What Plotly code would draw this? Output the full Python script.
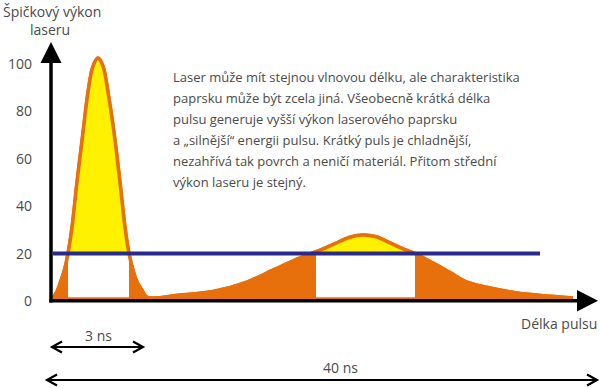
import plotly.graph_objects as go

# ---- data (x: horizontal position, y: peak power) ----
short_pulse_x = [53, 57, 61, 65, 68, 72, 77, 83, 88, 93, 98, 103, 108, 114, 120, 125, 129, 133, 137, 142, 147]
short_pulse_y = [1.3, 4, 8.5, 14, 20, 31, 50, 71, 88, 99, 102.5, 99, 88, 71, 50, 31, 20, 13, 8, 4.5, 1.6]

long_pulse_x = [147, 180, 213, 247, 273, 297, 311, 322, 335, 349, 362, 376, 390, 403, 415,
                433, 450, 467, 490, 517, 550, 573]
long_pulse_y = [1.6, 2.5, 4, 8, 13, 17.7, 20, 21.8, 24.2, 26.8, 27.8, 27.1, 24.5, 22, 20,
                16, 12, 8, 5.5, 3.4, 2, 1.3]

threshold = 20                      # mean power level
threshold_x = [53, 540]
window_starts = [68, 316]           # white windows under the threshold
window_ends = [129, 415]
window_bottom = 1.6

y_ticks = [0, 20, 40, 60, 80, 100]

paragraph = [
    "Laser může mít stejnou vlnovou délku, ale charakteristika",
    "paprsku může být zcela jiná. Všeobecně krátká délka",
    "pulsu generuje vyšší výkon laserového paprsku",
    "a „silnější“ energii pulsu. Krátký puls je chladnější,",
    "nezahřívá tak povrch a neničí materiál. Přitom střední",
    "výkon laseru je stejný.",
]

ORANGE = "#E8700C"
YELLOW = "#FFF100"
BLUE = "#2A2A8A"
TXT = "#4a4a4a"
FONT = "Open Sans"


def vy(p):
    """pixel row -> value on the power axis (for decorations)"""
    return (301 - p) / 2.37


full_x = short_pulse_x + long_pulse_x[1:]
full_y = short_pulse_y + long_pulse_y[1:]

fig = go.Figure()

# orange area under the whole curve
fig.add_trace(go.Scatter(x=full_x, y=full_y, mode="lines", fill="tozeroy",
                         fillcolor=ORANGE, line=dict(color=ORANGE, width=3.5, shape="spline"),
                         hoverinfo="skip"))

# yellow parts above the threshold
for xs, ys in [(short_pulse_x, short_pulse_y), (long_pulse_x, long_pulse_y)]:
    sx = [x for x, y in zip(xs, ys) if y >= threshold]
    sy = [y for y in ys if y >= threshold]
    fig.add_trace(go.Scatter(x=sx, y=sy, mode="lines", fill="toself", fillcolor=YELLOW,
                             line=dict(color=YELLOW, width=0, shape="spline"), hoverinfo="skip"))

# white windows under the threshold
for a, b in zip(window_starts, window_ends):
    fig.add_trace(go.Scatter(x=[a, a, b, b], y=[window_bottom, threshold, threshold, window_bottom],
                             mode="lines", fill="toself", fillcolor="white",
                             line=dict(width=0, color="white"), hoverinfo="skip"))

# orange outline on top
fig.add_trace(go.Scatter(x=full_x, y=full_y, mode="lines",
                         line=dict(color=ORANGE, width=3.5, shape="spline"), hoverinfo="skip"))

# mean power line
fig.add_trace(go.Scatter(x=threshold_x, y=[threshold, threshold], mode="lines",
                         line=dict(color=BLUE, width=4), hoverinfo="skip"))

shapes = []
# axes with arrow heads
shapes.append(dict(type="line", x0=51, x1=51, y0=vy(302.5), y1=vy(60),
                   line=dict(color="black", width=3.5), layer="above"))
shapes.append(dict(type="path", path=f"M 51,{vy(42)} L 40.5,{vy(63)} L 61.5,{vy(63)} Z",
                   fillcolor="black", line=dict(width=0), layer="above"))
shapes.append(dict(type="line", x0=49.3, x1=580, y0=vy(300.8), y1=vy(300.8),
                   line=dict(color="black", width=3.5), layer="above"))
shapes.append(dict(type="path", path=f"M 598,{vy(300.8)} L 577,{vy(290)} L 577,{vy(311.5)} Z",
                   fillcolor="black", line=dict(width=0), layer="above"))


def dbl_arrow(x0, x1, p):
    s = []
    s.append(dict(type="line", x0=x0, x1=x1, y0=vy(p), y1=vy(p), line=dict(color="black", width=2)))
    s.append(dict(type="path", path=f"M {x0+10},{vy(p-5.5)} L {x0},{vy(p)} L {x0+10},{vy(p+5.5)}",
                  line=dict(color="black", width=2.2)))
    s.append(dict(type="path", path=f"M {x1-10},{vy(p-5.5)} L {x1},{vy(p)} L {x1-10},{vy(p+5.5)}",
                  line=dict(color="black", width=2.2)))
    return s


shapes += dbl_arrow(52, 143, 347)
shapes += dbl_arrow(47, 597, 380)

annotations = []


def label(text, x, p, size=14, xanchor="center"):
    annotations.append(dict(text=text, x=x, y=vy(p), xref="x", yref="y", showarrow=False,
                            xanchor=xanchor, yanchor="middle",
                            font=dict(family=FONT, size=size, color=TXT)))


label("Špičkový výkon", 52, 11)
label("laseru", 50, 29)
label("Délka pulsu", 599, 323, xanchor="right")
label("3 ns", 98, 335)
label("40 ns", 340, 367)
for i, line in enumerate(paragraph):
    label(line, 171, 77 + i * 21, size=13, xanchor="left")

fig.update_layout(
    width=600, height=388,
    margin=dict(l=36, r=0, t=0, b=0),
    paper_bgcolor="white", plot_bgcolor="white",
    showlegend=False,
    shapes=shapes, annotations=annotations,
    xaxis=dict(range=[36, 600], visible=False),
    yaxis=dict(range=[vy(388), vy(0)], tickvals=y_ticks, ticks="", showgrid=False,
               zeroline=False, showline=False, automargin=False, ticklabelstandoff=3,
               tickfont=dict(family=FONT, size=14, color=TXT)),
)

fig.write_html("out.html", config={"displayModeBar": False},
               post_script="document.body.style.margin='0';document.body.style.overflow='hidden';")
